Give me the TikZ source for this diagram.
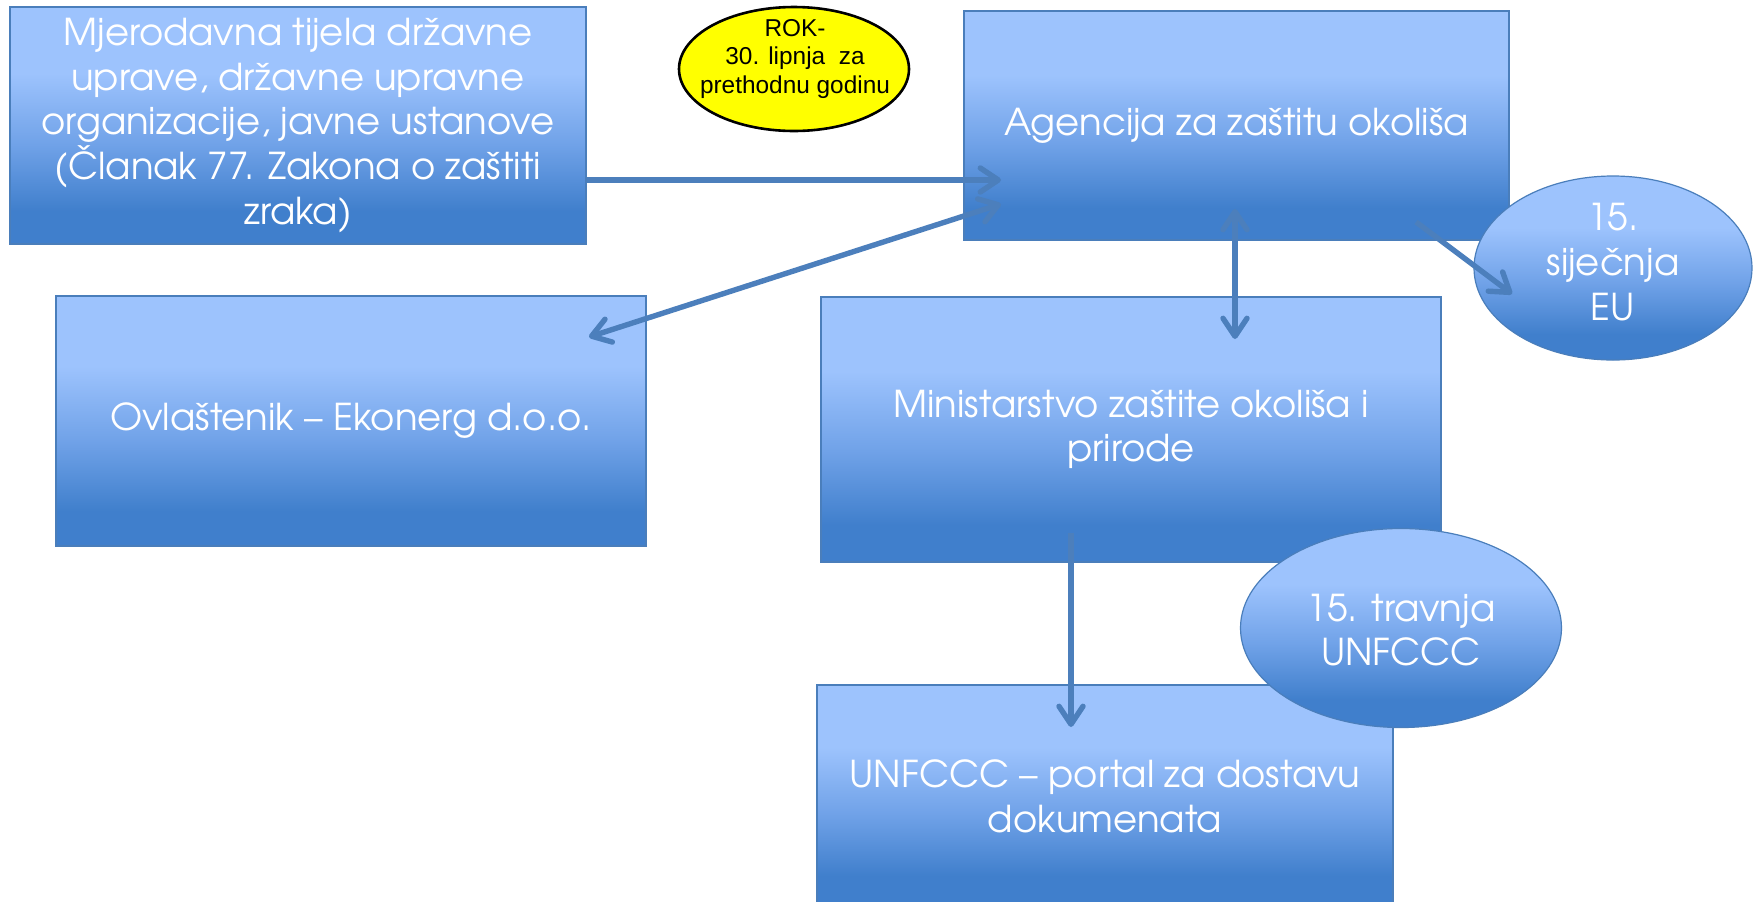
\documentclass[tikz,border=0pt]{standalone}
\usepackage{fontspec}
\setmainfont{TeX Gyre Adventor}
\newfontfamily\arialfont{Liberation Sans}
\usetikzlibrary{arrows.meta,shapes.geometric}
\definecolor{bt}{RGB}{157,195,253}
\definecolor{bm}{RGB}{112,162,232}
\definecolor{bb}{RGB}{64,127,204}
\definecolor{edgec}{RGB}{74,126,187}
\definecolor{arrc}{RGB}{76,127,188}
\definecolor{yel}{RGB}{255,255,0}
\pgfdeclareverticalshading{boxshade}{100bp}{color(0bp)=(bb); color(32bp)=(bb); color(46bp)=(bm); color(61bp)=(bt); color(100bp)=(bt)}
\tikzset{
  box/.style={rectangle, draw=edgec, line width=0.6pt, shading=boxshade, text=white, align=center,
    font=\fontsize{18.5}{22.35}\selectfont, inner sep=0pt},
  oval/.style={ellipse, draw=edgec, line width=0.6pt, shading=boxshade, inner sep=0pt},
  ovaltext/.style={text=white, align=center, font=\fontsize{18.5}{22.35}\selectfont, inner sep=0pt},
  yeloval/.style={ellipse, draw=black, line width=1.3pt, fill=yel, inner sep=0pt},
  yeltext/.style={text=black, align=center, font=\arialfont\fontsize{12.2}{14.4}\selectfont, inner sep=0pt},
  conn/.style={draw=arrc, line width=2.7pt, -{Straight Barb[length=9pt,width=12pt,round]}},
  dconn/.style={draw=arrc, line width=2.7pt, {Straight Barb[length=9pt,width=12pt,round]}-{Straight Barb[length=9pt,width=12pt,round]}}
}
\begin{document}
\begin{tikzpicture}[x=0.5pt,y=-0.5pt]
\useasboundingbox (0,0) rectangle (1753,901);
\fill[white] (0,0) rectangle (1753,901);
\clip (0,0) rectangle (1753,901);

% boxes
\node[box, minimum width=288pt, minimum height=118.5pt] (mjer) at (298,125.5)
  {Mjerodavna tijela državne\\uprave, državne upravne\\organizacije, javne ustanove\\(Članak 77. Zakona o zaštiti\\zraka)};
\node[box, minimum width=272.5pt, minimum height=114.5pt] (aga) at (1236.5,125.5)
  {Agencija za zaštitu okoliša};
\node[box, minimum width=295pt, minimum height=125pt] (ovl) at (351,421)
  {Ovlaštenik – Ekonerg d.o.o.};
\node[box, minimum width=310pt, minimum height=132.5pt] (min) at (1131,429.5)
  {Ministarstvo zaštite okoliša i\\prirode};
\node[box, minimum width=288pt, minimum height=111pt] (unf) at (1105,796)
  {UNFCCC – portal za dostavu\\dokumenata};

% ellipses
\node[yeloval, minimum width=115pt, minimum height=62pt] (rok) at (794,69) {};
\node[yeltext] (roktxt) at (795,59) {ROK-\\30. lipnja\ \ za\\prethodnu godinu};

\node[oval, minimum width=139pt, minimum height=92pt] (eu) at (1613,268) {};
\node[ovaltext] (eutxt) at (1613,262) {15.\\siječnja\\EU};

\node[oval, minimum width=160.5pt, minimum height=99.5pt] (trav) at (1401,628) {};
\node[ovaltext] (travtxt) at (1401,630) {15. travnja\\UNFCCC};

% connector end points
\coordinate (a1e) at (1001,180);
\coordinate (a2s) at (1001,204);
\coordinate (a2e) at (589,337);
\coordinate (a3s) at (1235,209);
\coordinate (a3e) at (1235,339);
\coordinate (a4s) at (1416,222);
\coordinate (a4e) at (1512,294);
\coordinate (a5s) at (1071,533);
\coordinate (a5e) at (1071,727);

% connectors
\draw[conn] (mjer.east |- a1e) -- (a1e);
\draw[dconn] (a2s) -- (a2e);
\draw[dconn] (a3s) -- (a3e);
\draw[conn] (a4s) -- (a4e);
\draw[conn] (a5s) -- (a5e);
\end{tikzpicture}
\end{document}
